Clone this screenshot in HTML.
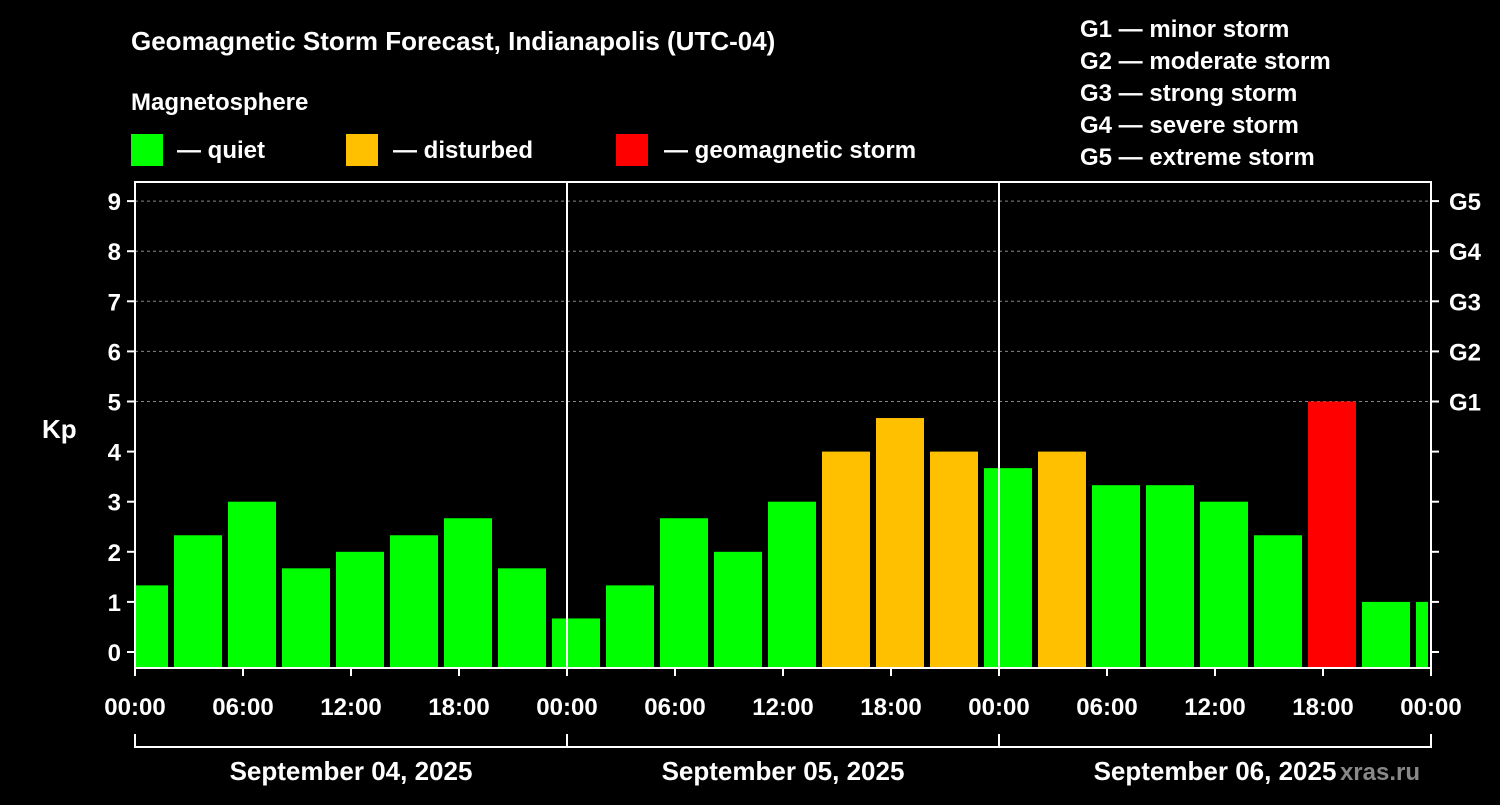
<!DOCTYPE html>
<html><head><meta charset="utf-8"><style>
body{margin:0;background:#000;}
svg text{font-family:"Liberation Sans",sans-serif;font-weight:bold;fill:#fff;}
</style></head><body>
<svg id="c" width="1500" height="800" xmlns="http://www.w3.org/2000/svg">
<rect width="1500" height="800" fill="#000"/>
<text x="131" y="50" font-size="26">Geomagnetic Storm Forecast, Indianapolis (UTC-04)</text>
<text x="131" y="110" font-size="24">Magnetosphere</text>
<g><rect x="131" y="134" width="32" height="32" fill="#00ff00"/><text x="177" y="158" font-size="24">— quiet</text></g>
<g><rect x="346" y="134" width="32" height="32" fill="#ffc000"/><text x="393" y="158" font-size="24">— disturbed</text></g>
<g><rect x="616" y="134" width="32" height="32" fill="#ff0000"/><text x="664" y="158" font-size="24">— geomagnetic storm</text></g>
<g font-size="24">
<text x="1080" y="37">G1 — minor storm</text>
<text x="1080" y="69">G2 — moderate storm</text>
<text x="1080" y="101">G3 — strong storm</text>
<text x="1080" y="133">G4 — severe storm</text>
<text x="1080" y="165">G5 — extreme storm</text>
</g>
<text x="42" y="438" font-size="26">Kp</text>
<text x="1420" y="780" font-size="24" text-anchor="end" style="fill:#888">xras.ru</text>
<g id="plot"></g>
</svg>
<script>
const kpValues=[1.33,2.33,3,1.67,2,2.33,2.67,1.67,0.67,1.33,2.67,2,3,4,4.67,4,3.67,4,3.33,3.33,3,2.33,5,1,1];
const yTicks=[0,1,2,3,4,5,6,7,8,9];
const gLabels=["G1","G2","G3","G4","G5"];
const xTickLabels=["00:00","06:00","12:00","18:00","00:00","06:00","12:00","18:00","00:00","06:00","12:00","18:00","00:00"];
const dayLabels=["September 04, 2025","September 05, 2025","September 06, 2025"];
const NS="http://www.w3.org/2000/svg";
const g=document.getElementById('plot');
const X0=135,PXH=18,Y0=652,PXU=50.1,TOP=182,BOT=668,XR=1431;
const xs=h=>X0+h*PXH, ys=v=>Y0-v*PXU;
function mk(t,a,txt){const e=document.createElementNS(NS,t);for(const k in a)e.setAttribute(k,a[k]);if(txt!==undefined)e.textContent=txt;g.appendChild(e);return e;}
// grid
[5,6,7,8,9].forEach(v=>{const e=mk('line',{x1:X0,x2:XR,y1:ys(v),y2:ys(v),stroke:'#888','stroke-dasharray':'3,3'});

});
// bars
kpValues.forEach((v,k)=>{let x1=xs(3*k-1)+3,x2=x1+48;x1=Math.max(x1,X0+1);x2=Math.min(x2,XR-3);
const col=v>=5?'#ff0000':(v>=4?'#ffc000':'#00ff00');
const r=mk('rect',{x:x1,y:ys(v),width:x2-x1,height:BOT-ys(v),fill:col});

});
// frame
const f=mk('rect',{x:X0,y:TOP,width:XR-X0,height:BOT-TOP,fill:'none',stroke:'#fff','stroke-width':2});


[1,2].forEach(d=>{const e=mk('line',{x1:xs(24*d),x2:xs(24*d),y1:TOP,y2:BOT,stroke:'#fff','stroke-width':2});

});
// y ticks
yTicks.forEach(v=>{mk('line',{x1:X0-8,x2:X0,y1:ys(v),y2:ys(v),stroke:'#fff','stroke-width':2});
mk('line',{x1:XR,x2:XR+8,y1:ys(v),y2:ys(v),stroke:'#fff','stroke-width':2});
const t=mk('text',{x:X0-14,y:ys(v)+9,'font-size':24,'text-anchor':'end'},String(v));

});
gLabels.forEach((s,i)=>{const t=mk('text',{x:XR+18,y:ys(5+i)+9,'font-size':24},s);

});
// x ticks
xTickLabels.forEach((s,i)=>{mk('line',{x1:xs(6*i),x2:xs(6*i),y1:BOT,y2:BOT+8,stroke:'#fff','stroke-width':2});
const t=mk('text',{x:xs(6*i),y:715,'font-size':24,'text-anchor':'middle'},s);

});
mk('line',{x1:X0,x2:XR,y1:747,y2:747,stroke:'#fff','stroke-width':2});
[0,1,2,3].forEach(d=>mk('line',{x1:xs(24*d),x2:xs(24*d),y1:734,y2:748,stroke:'#fff','stroke-width':2}));
dayLabels.forEach((s,d)=>{const t=mk('text',{x:xs(24*d+12),y:780,'font-size':26,'text-anchor':'middle'},s);

});
</script>
</body></html>
